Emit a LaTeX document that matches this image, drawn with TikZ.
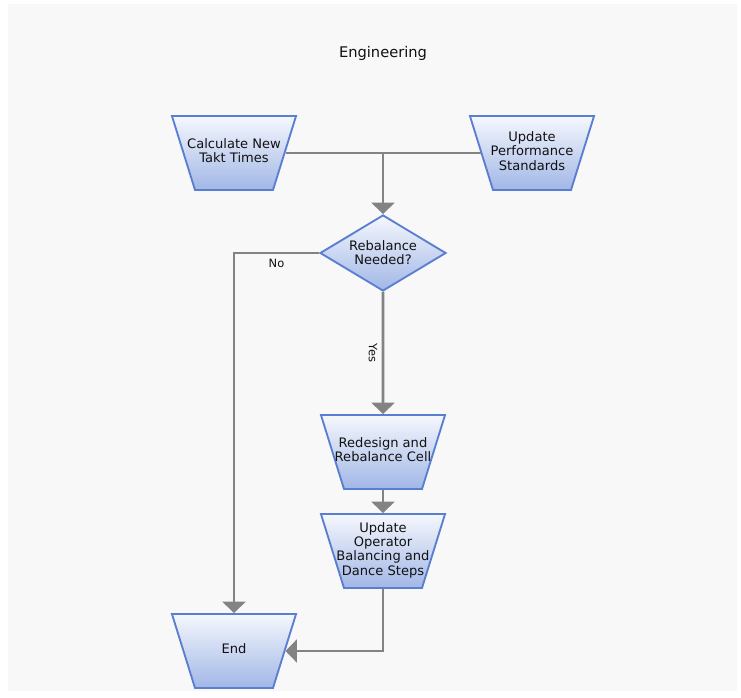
\documentclass[tikz,border=0pt]{standalone}
\usepackage{fontspec}
\setmainfont{DejaVu Sans}
\usetikzlibrary{shapes.geometric, arrows.meta, positioning, calc}
\usepackage{xcolor}
\definecolor{Edge}{HTML}{5A7FD0}
\definecolor{FillTop}{HTML}{F5F7FD}
\definecolor{FillBottom}{HTML}{A1B7E6}
\definecolor{Wire}{HTML}{838383}
\definecolor{Canvas}{HTML}{F8F8F8}
\definecolor{Ink}{HTML}{111111}
% fixed text box for the task shapes, lines centred even when wider
\newcommand{\stacked}[1]{\makebox[58.5pt]{$\vcenter to 55.5pt{\vss\hbox{\begin{tabular}{@{}c@{}}#1\end{tabular}}\vss}$}}

\begin{document}
\begin{tikzpicture}[
            x=0.75pt, y=-0.75pt,
            task/.style={
                trapezium,
                shape border rotate=180,
                trapezium angle=72.7,
                draw=Edge,
                line width=1.4pt,
                top color=FillTop,
                bottom color=FillBottom,
                inner sep=0pt,
                font=\fontsize{9.8}{10.6}\selectfont,
                text=Ink
            },
            decision/.style={
                diamond,
                draw=Edge,
                line width=1.4pt,
                top color=FillTop,
                bottom color=FillBottom,
                minimum width=94.5pt,
                minimum height=57pt,
                aspect=1.66,
                inner sep=0pt,
                align=center,
                font=\fontsize{9.8}{10.6}\selectfont,
                text=Ink
            },
            line/.style={line width=2.1pt, color=Wire},
            arrow/.style={line, -{Triangle[width=17pt, length=8.5pt]}},
            note/.style={font=\fontsize{8.6}{9.6}\selectfont, text=Ink}
        ]
            \useasboundingbox (0,0) rectangle (741,698);
            \fill[white] (0,0) rectangle (741,698);
            \fill[Canvas] (8,4) rectangle (737,691);

            \node[font=\fontsize{11}{13}\selectfont, text=Ink] (title) at (383,53) {Engineering};

            \node[task] (calc) at (234,153) {\stacked{Calculate New\\Takt Times}};
            \node[task] (perf) at (532,153) {\stacked{Update\\Performance\\Standards}};
            \node[decision] (decide) at (383,253) {Rebalance\\Needed?};
            \node[task] (redesign) at (383,452) {\stacked{Redesign and\\Rebalance Cell}};
            \node[task] (oper) at (383,551) {\stacked{Update\\Operator\\Balancing and\\Dance Steps}};
            \node[task] (finish) at (234,651) {\stacked{End}};

            % Inputs merge above the decision
            \coordinate (join) at (decide.north |- calc.east);
            \draw[line] (calc.east) -- (join);
            \draw[line] (perf.west) -- (join);
            \draw[arrow] (join) -- (decide.north);

            % Decision branches
            \draw[arrow] (decide.west) -| node[pos=0.25, below, note]{No} (finish.north);
            \draw[arrow] (decide.south) -- node[midway, xshift=-7.5pt, rotate=-90, note]{Yes} (redesign.north);
            \draw[arrow] (redesign.south) -- (oper.north);
            \draw[arrow] (oper.south) |- (finish.east);
        \end{tikzpicture}
\end{document}
